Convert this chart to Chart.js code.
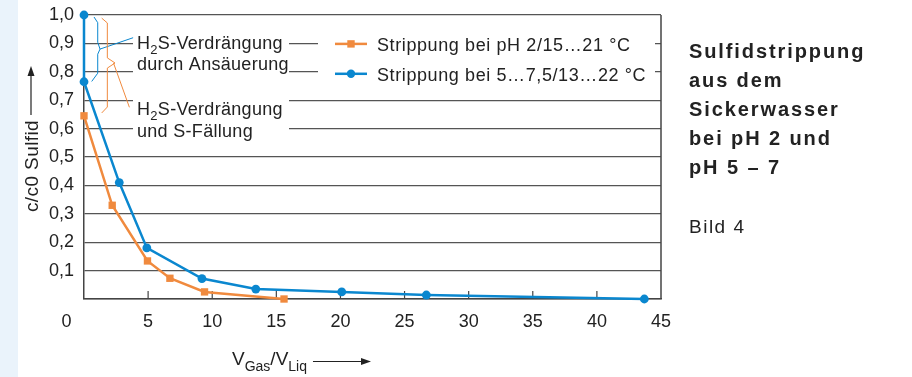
<!DOCTYPE html>
<html>
<head>
<meta charset="utf-8">
<script src="https://cdn.jsdelivr.net/npm/chart.js@4/dist/chart.umd.min.js"></script>
<style>
  body { margin: 0; background: #fff; }
  canvas { display: block; }
</style>
</head>
<body>
<canvas id="chart" width="912" height="377"></canvas>
<script>
// data
const acidX = [0, 2.2, 4.95, 6.7, 9.4, 15.6]
const acidY = [0.645, 0.33, 0.134, 0.073, 0.025, 0]
const neutralX = [0, 0, 2.75, 4.9, 9.2, 13.4, 20.1, 26.7, 43.7]
const neutralY = [1.0, 0.765, 0.41, 0.18, 0.072, 0.035, 0.025, 0.014, 0]

const seriesLabels = ['Strippung bei pH 2/15…21 °C', 'Strippung bei 5…7,5/13…22 °C']
const xTickValues = [0, 5, 10, 15, 20, 25, 30, 35, 40, 45]
const yTickValues = [0, 0.1, 0.2, 0.3, 0.4, 0.5, 0.6, 0.7, 0.8, 0.9, 1.0]

const titleLines = ['Sulfidstrippung', 'aus dem', 'Sickerwasser', 'bei pH 2 und', 'pH 5 – 7']
const figureLabel = 'Bild 4'

const ORANGE = '#f08a3e'
const BLUE = '#0a87cf'
const INK = '#222'
const FONT = '"Liberation Sans", Arial, sans-serif'

function toPoints(xs, ys) {
    return xs.map((x, i) => ({x: x, y: ys[i]}))
}

function richText(ctx, parts, x, y, size) {
    ctx.textAlign = 'left'
    ctx.textBaseline = 'alphabetic'
    for (const [t, sub] of parts) {
        ctx.font = (sub ? Math.round(size * 0.72) : size) + 'px ' + FONT
        ctx.fillText(t, x, sub ? y + size * 0.3 : y)
        x += ctx.measureText(t).width
    }
    return x
}

function polyline(ctx, pts) {
    ctx.beginPath()
    pts.forEach((p, i) => i ? ctx.lineTo(p[0], p[1]) : ctx.moveTo(p[0], p[1]))
    ctx.stroke()
}

const decor = {
    id: 'decor',
    beforeDraw(chart) {
        const ctx = chart.ctx
        ctx.save()
        ctx.fillStyle = '#eaf3fb'
        ctx.fillRect(0, 0, 18, chart.height)
        ctx.restore()
    },
    beforeDatasetsDraw(chart) {
        const ctx = chart.ctx
        const xs = chart.scales.x, ys = chart.scales.y
        const P = (vx, vy) => [xs.getPixelForValue(vx), ys.getPixelForValue(vy)]
        const area = chart.chartArea
        ctx.save()

        // white boxes behind the notes and the legend
        ctx.fillStyle = '#fff'
        ctx.fillRect(133, ys.getPixelForValue(0.96), 156, ys.getPixelForValue(0.56) - ys.getPixelForValue(0.96))
        ctx.fillRect(318, ys.getPixelForValue(0.95), 337, ys.getPixelForValue(0.75) - ys.getPixelForValue(0.95))

        // right frame + inner ticks
        ctx.strokeStyle = '#444'
        ctx.lineWidth = 1.5
        polyline(ctx, [[area.right, area.top], [area.right, area.bottom]])
        ctx.lineWidth = 1.2
        xTickValues.slice(1, -1).forEach(v => {
            const px = xs.getPixelForValue(v)
            polyline(ctx, [[px, area.bottom], [px, area.bottom - 8]])
        })

        // brackets
        ctx.lineWidth = 1
        ctx.strokeStyle = BLUE
        polyline(ctx, [P(0.78, 0.993), P(1.07, 0.973), P(1.07, 0.904), P(1.25, 0.88),
                       P(1.07, 0.862), P(1.07, 0.795), P(0.6, 0.766)])
        polyline(ctx, [P(1.25, 0.88), P(3.83, 0.92)])
        ctx.strokeStyle = ORANGE
        polyline(ctx, [P(1.38, 0.989), P(1.82, 0.972), P(1.82, 0.849), P(2.42, 0.831),
                       P(1.82, 0.813), P(1.82, 0.676), P(1.38, 0.655)])
        polyline(ctx, [P(2.3, 0.831), P(3.54, 0.675)])

        // notes
        ctx.fillStyle = INK
        ctx.letterSpacing = '0.3px'
        richText(ctx, [['H'], ['2', true], ['S-Verdrängung']], 137, 49, 18)
        richText(ctx, [['durch Ansäuerung']], 137, 70, 18)
        richText(ctx, [['H'], ['2', true], ['S-Verdrängung']], 137, 115, 18)
        richText(ctx, [['und S-Fällung']], 137, 136.5, 18)
        ctx.letterSpacing = '0px'

        // legend
        chart.data.datasets.forEach((ds, i) => {
            const ly = ys.getPixelForValue(0.9 - i * 0.1) + 0.5 + i * 1.5
            ctx.strokeStyle = ds.borderColor
            ctx.lineWidth = 2.5
            polyline(ctx, [[335, ly], [367, ly]])
            ctx.fillStyle = ds.borderColor
            if (ds.pointStyle === 'rect') {
                ctx.fillRect(351 - 3.7, ly - 3.7, 7.4, 7.4)
            } else {
                ctx.beginPath()
                ctx.arc(351, ly, 4.2, 0, Math.PI * 2)
                ctx.fill()
            }
            ctx.fillStyle = INK
            ctx.font = '18px ' + FONT
            ctx.letterSpacing = '0.6px'
            ctx.textBaseline = 'alphabetic'
            ctx.fillText(ds.label, 377, ly + 7)
            ctx.letterSpacing = '0px'
        })
        ctx.restore()
    },
    afterDraw(chart) {
        const ctx = chart.ctx
        ctx.save()
        ctx.fillStyle = INK
        ctx.strokeStyle = INK

        // y axis title with arrow
        ctx.save()
        ctx.translate(38, 166)
        ctx.rotate(-Math.PI / 2)
        ctx.font = '19px ' + FONT
        ctx.letterSpacing = '0.4px'
        ctx.textAlign = 'center'
        ctx.textBaseline = 'alphabetic'
        ctx.fillText('c/c0 Sulfid', 0, 0)
        ctx.restore()
        ctx.lineWidth = 1.2
        polyline(ctx, [[31, 115], [31, 74]])
        ctx.beginPath()
        ctx.moveTo(31, 66); ctx.lineTo(27.5, 76); ctx.lineTo(34.5, 76); ctx.closePath()
        ctx.fill()

        // x axis title with arrow
        const end = richText(ctx, [['V'], ['Gas', true], ['/V'], ['Liq', true]], 232, 365, 19)
        polyline(ctx, [[end + 6, 361.5], [362, 361.5]])
        ctx.beginPath()
        ctx.moveTo(371, 361.5); ctx.lineTo(361, 358); ctx.lineTo(361, 365); ctx.closePath()
        ctx.fill()

        // caption on the right
        ctx.textAlign = 'left'
        ctx.font = 'bold 20px ' + FONT
        ctx.letterSpacing = '1.9px'
        titleLines.forEach((t, i) => ctx.fillText(t, 689, 58.3 + i * 29))
        ctx.font = '19px ' + FONT
        ctx.letterSpacing = '1.5px'
        ctx.fillText(figureLabel, 689, 233)
        ctx.restore()
    }
}

new Chart(document.getElementById('chart'), {
    type: 'line',
    data: {
        datasets: [
            {
                label: seriesLabels[0],
                data: toPoints(acidX, acidY),
                borderColor: ORANGE,
                backgroundColor: ORANGE,
                borderWidth: 2.5,
                pointStyle: 'rect',
                pointRadius: 5.2,
                pointBorderWidth: 0,
                tension: 0,
                clip: false,
            },
            {
                label: seriesLabels[1],
                data: toPoints(neutralX, neutralY),
                borderColor: BLUE,
                backgroundColor: BLUE,
                borderWidth: 2.5,
                pointStyle: 'circle',
                pointRadius: 4.4,
                pointBorderWidth: 0,
                tension: 0,
                clip: false,
            },
        ]
    },
    options: {
        responsive: false,
        animation: false,
        events: [],
        layout: {padding: {left: 0, top: 15, right: 251, bottom: 0}},
        plugins: {legend: {display: false}, tooltip: {enabled: false}},
        scales: {
            x: {
                type: 'linear',
                min: 0,
                max: 45,
                afterBuildTicks: s => { s.ticks = xTickValues.map(v => ({value: v})) },
                afterFit: s => { s.height = 78; s.paddingLeft = 0; s.paddingRight = 0 },
                grid: {display: false},
                border: {display: true, color: '#444', width: 1.5},
                ticks: {
                    color: INK,
                    font: {family: FONT, size: 18},
                    padding: 4,
                    maxRotation: 0,
                    autoSkip: false,
                    // the zero sits left of the corner
                    callback: v => v === 0 ? '0       ' : String(v),
                },
            },
            y: {
                type: 'linear',
                min: 0,
                max: 1,
                afterBuildTicks: s => { s.ticks = yTickValues.map(v => ({value: v})) },
                afterFit: s => { s.width = 84; s.paddingTop = 0; s.paddingBottom = 0 },
                grid: {color: '#555', lineWidth: 1.2, drawTicks: false},
                border: {display: true, color: '#444', width: 1.5},
                ticks: {
                    color: INK,
                    font: {family: FONT, size: 18},
                    padding: 10,
                    autoSkip: false,
                    callback: v => v === 0 ? '' : v.toFixed(1).replace('.', ','),
                },
            },
        },
    },
    plugins: [decor],
})
</script>
</body>
</html>
